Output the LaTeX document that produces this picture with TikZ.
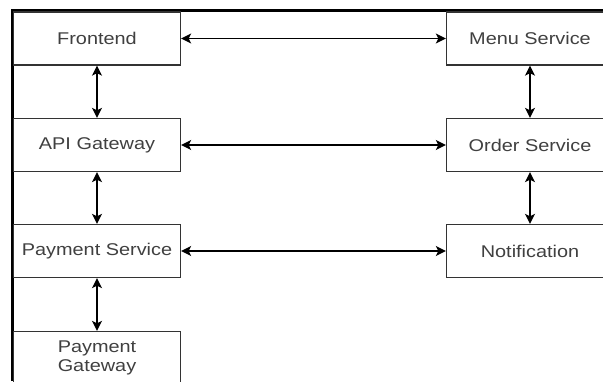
\documentclass[tikz,border=0pt]{standalone}
\usepackage{fontspec}
\setmainfont{Liberation Sans}[FakeStretch=1.17]
\usetikzlibrary{arrows.meta}
\begin{document}
\begin{tikzpicture}[x=1pt,y=-1pt,
  box/.style={draw=black!80, line width=1.3pt, minimum width=167pt, minimum height=53pt,
    inner sep=0pt, font=\fontsize{17}{18.5}\selectfont, text=black!75, align=center},
  link/.style={draw=black, line width=1.6pt,
    {Stealth[length=10pt,width=10pt,inset=2.5pt]}-{Stealth[length=10pt,width=10pt,inset=2.5pt]}},
  frame/.style={draw=black, line width=3pt}]
\useasboundingbox (0,0) rectangle (603,381);
\clip (0,0) rectangle (603,381);
\fill[white] (0,0) rectangle (603,381);
% window frame
\coordinate (f1) at (12.5,381);
\coordinate (f2) at (12.5,10.5);
\coordinate (f3) at (603,10.5);
\draw[frame] (f1) -- (f2) -- (f3);
% boxes
\node[box] (fe)    at (97,38.5)  {Frontend};
\node[box] (api)   at (97,145)   {API Gateway};
\node[box] (pay)   at (97,251)   {Payment Service};
\node[box] (pgw)   at (97,358)   {Payment\\Gateway};
\node[box] (menu)  at (530,38.5) {Menu Service};
\node[box] (order) at (530,145)  {Order Service};
\node[box] (notif) at (530,251)  {Notification};
% connectors
\draw[link] (fe) -- (menu);
\draw[link] (api) -- (order);
\draw[link] (pay) -- (notif);
\draw[link] (fe) -- (api);
\draw[link] (api) -- (pay);
\draw[link] (pay) -- (pgw);
\draw[link] (menu) -- (order);
\draw[link] (order) -- (notif);
\end{tikzpicture}
\end{document}
